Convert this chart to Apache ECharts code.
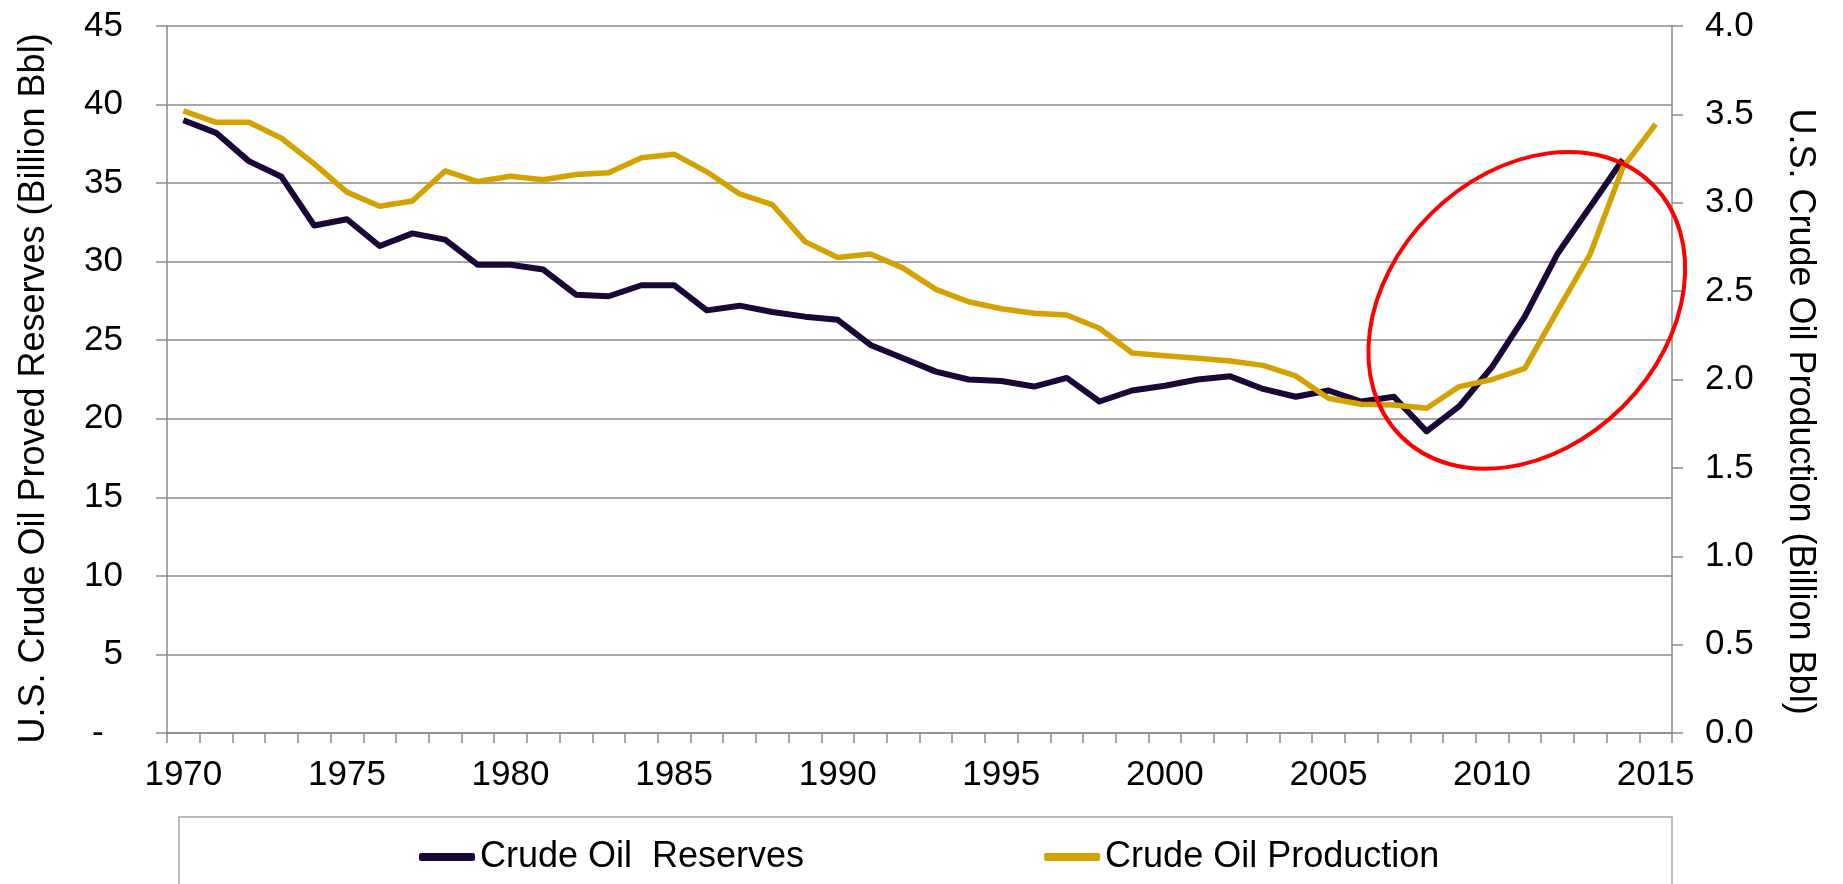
<!DOCTYPE html>
<html>
<head>
<meta charset="utf-8">
<script src="https://cdn.jsdelivr.net/npm/echarts@6/dist/echarts.min.js"></script>
<style>
  html, body { margin: 0; padding: 0; background: #fff; }
  #chart { width: 1843px; height: 884px; }
</style>
</head>
<body>
<div id="chart"></div>
<script>
// years on the x axis
const years = ['1970','1971','1972','1973','1974','1975','1976','1977','1978','1979',
  '1980','1981','1982','1983','1984','1985','1986','1987','1988','1989',
  '1990','1991','1992','1993','1994','1995','1996','1997','1998','1999',
  '2000','2001','2002','2003','2004','2005','2006','2007','2008','2009',
  '2010','2011','2012','2013','2014','2015'];

// proved reserves, billion bbl (left axis) - no 2015 value
const reserves = [39.0, 38.2, 36.4, 35.4, 32.3, 32.7, 31.0, 31.8, 31.4, 29.8,
  29.8, 29.5, 27.9, 27.8, 28.5, 28.5, 26.9, 27.2, 26.8, 26.5,
  26.3, 24.7, 23.85, 23.0, 22.5, 22.4, 22.05, 22.6, 21.1, 21.8,
  22.1, 22.5, 22.7, 21.9, 21.4, 21.8, 21.1, 21.4, 19.2, 20.8,
  23.3, 26.5, 30.5, 33.5, 36.5, null];

// production, billion bbl (right axis)
const production = [3.52, 3.455, 3.455, 3.365, 3.22, 3.06, 2.98, 3.01, 3.18, 3.12,
  3.15, 3.13, 3.16, 3.17, 3.255, 3.275, 3.175, 3.05, 2.99, 2.78,
  2.69, 2.71, 2.63, 2.51, 2.44, 2.40, 2.375, 2.365, 2.29, 2.15,
  2.135, 2.12, 2.105, 2.08, 2.02, 1.894, 1.86, 1.856, 1.837, 1.96,
  2.0, 2.063, 2.39, 2.71, 3.20, 3.445];

const FONT = "'Liberation Sans', Arial, sans-serif";
const AXIS_GREY = '#8a8a8a';

const chart = echarts.init(document.getElementById('chart'), null, { renderer: 'canvas' });

chart.setOption({
  animation: false,
  backgroundColor: '#fff',
  textStyle: { fontFamily: FONT, color: '#000' },
  grid: { left: 167, right: 171, top: 26, bottom: 151, outerBoundsMode: 'none' },
  legend: {
    left: 414, top: 834,
    icon: 'roundRect',
    itemWidth: 56, itemHeight: 8, itemGap: 240,
    textStyle: { fontSize: 36, fontFamily: FONT, color: '#000' },
    data: ['Crude Oil  Reserves', 'Crude Oil Production']
  },
  xAxis: {
    type: 'category',
    data: years,
    boundaryGap: true,
    axisLine: { lineStyle: { color: AXIS_GREY, width: 1.5 } },
    axisTick: { show: true, interval: 0, length: 10, lineStyle: { color: AXIS_GREY, width: 1.5 } },
    axisLabel: { interval: 4, margin: 25, fontSize: 35, color: '#000', fontFamily: FONT },
    splitLine: { show: false }
  },
  yAxis: [
    {
      type: 'value', min: 0, max: 45, interval: 5, position: 'left',
      name: 'U.S. Crude Oil Proved Reserves (Billion Bbl)',
      nameLocation: 'middle', nameGap: 115,
      nameTextStyle: { fontSize: 36, color: '#000', fontFamily: FONT, padding: [0, 18, 0, 0] },
      axisLine: { show: true, lineStyle: { color: AXIS_GREY, width: 1.5 } },
      axisTick: { show: true, length: 11, lineStyle: { color: AXIS_GREY, width: 1.5 } },
      axisLabel: {
        margin: 44, fontSize: 35, color: '#000', fontFamily: FONT,
        formatter: v => (v === 0 ? '-  ' : String(v))
      },
      splitLine: { show: true, lineStyle: { color: AXIS_GREY, width: 1.5 } }
    },
    {
      type: 'value', min: 0, max: 4, interval: 0.5, position: 'right',
      name: 'U.S. Crude Oil Production (Billion Bbl)',
      nameLocation: 'middle', nameGap: 110, nameRotate: -90,
      nameTextStyle: { fontSize: 36, color: '#000', fontFamily: FONT, padding: [0, 0, 0, 64] },
      axisLine: { show: true, lineStyle: { color: AXIS_GREY, width: 1.5 } },
      axisTick: { show: true, length: 11, lineStyle: { color: AXIS_GREY, width: 1.5 } },
      axisLabel: {
        margin: 33, fontSize: 35, color: '#000', fontFamily: FONT,
        formatter: v => v.toFixed(1)
      },
      splitLine: { show: false }
    }
  ],
  series: [
    {
      name: 'Crude Oil  Reserves',
      type: 'line',
      yAxisIndex: 0,
      data: reserves,
      showSymbol: false,
      color: '#1b0638',
      lineStyle: { width: 6, color: '#1b0638', join: 'round' }
    },
    {
      name: 'Crude Oil Production',
      type: 'line',
      yAxisIndex: 1,
      data: production,
      showSymbol: false,
      color: '#d4a200',
      lineStyle: { width: 5.5, color: '#d4a200', join: 'round' }
    }
  ]
});

// red ring round the recent rise, anchored in data space
const c = chart.convertToPixel({ xAxisIndex: 0, yAxisIndex: 0 }, ['2011', 26.9]);

chart.setOption({
  graphic: [
    {
      type: 'rect', silent: true, z: 0,
      shape: { x: 179, y: 817, width: 1493, height: 120 },
      style: { fill: 'none', stroke: '#a6a6a6', lineWidth: 1.5 }
    },
    {
      type: 'ellipse', silent: true, z: 100,
      x: c[0] + 2, y: c[1],
      rotation: Math.PI / 4,
      shape: { cx: 0, cy: 0, rx: 178, ry: 136 },
      style: { fill: 'none', stroke: '#ff0000', lineWidth: 4 }
    }
  ]
});
</script>
</body>
</html>
